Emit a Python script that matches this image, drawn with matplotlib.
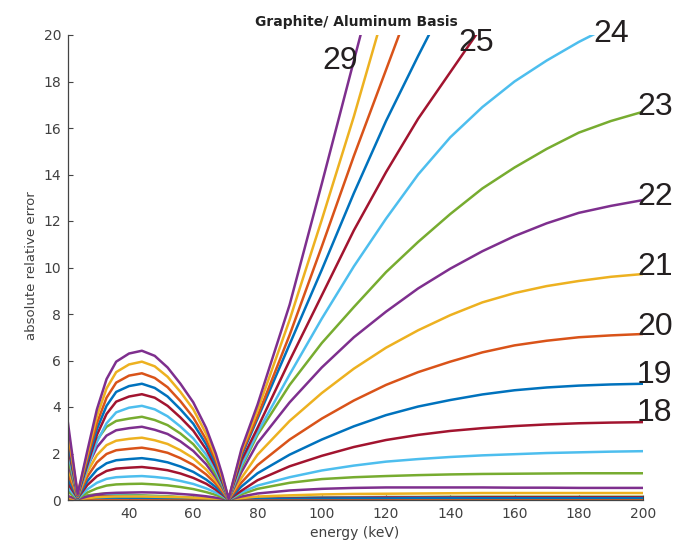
import numpy as np
import matplotlib
matplotlib.use("Agg")
import matplotlib.pyplot as plt

low_energy = [21, 24, 27, 30, 33, 36, 40, 44, 48, 52, 56, 60, 64, 67, 69, 71]
high_energy = [75, 80, 90, 100, 110, 120, 130, 140, 150, 160, 170, 180, 190, 200]
energy = low_energy + high_energy
nan = np.nan

# absolute relative error per atomic number (low part + high part)
err_z5 = [0.45, 0.05, 0.12, 0.15, 0.15, 0.14, 0.13, 0.12, 0.11, 0.1, 0.08, 0.07, 0.05, 0.03, 0.02, 0.0,
          0.02, 0.04, 0.06, 0.08, 0.09, 0.1, 0.1, 0.1, 0.1, 0.1, 0.1, 0.1, 0.1, 0.1]
err_z6 = [0.0] * 30
err_z7 = [0.6, 0.06, 0.1, 0.12, 0.12, 0.11, 0.1, 0.1, 0.09, 0.08, 0.07, 0.06, 0.04, 0.03, 0.02, 0.0,
          0.01, 0.02, 0.03, 0.04, 0.05, 0.05, 0.05, 0.05, 0.05, 0.05, 0.05, 0.05, 0.05, 0.05]
err_z8 = [0.9, 0.1, 0.15, 0.2, 0.22, 0.2, 0.18, 0.17, 0.15, 0.13, 0.11, 0.09, 0.07, 0.05, 0.03, 0.0,
          0.02, 0.04, 0.06, 0.07, 0.08, 0.08, 0.09, 0.09, 0.09, 0.09, 0.09, 0.09, 0.09, 0.09]
err_z9 = [1.1, 0.1, 0.2, 0.25, 0.28, 0.25, 0.22, 0.2, 0.18, 0.16, 0.13, 0.1, 0.08, 0.05, 0.03, 0.0,
          0.03, 0.06, 0.09, 0.11, 0.12, 0.13, 0.13, 0.14, 0.14, 0.14, 0.14, 0.14, 0.14, 0.14]
err_z10 = [1.0, 0.08, 0.15, 0.2, 0.2, 0.19, 0.18, 0.17, 0.15, 0.13, 0.11, 0.09, 0.07, 0.05, 0.03, 0.0,
           0.02, 0.05, 0.08, 0.1, 0.11, 0.12, 0.12, 0.12, 0.12, 0.12, 0.12, 0.12, 0.12, 0.12]
err_z11 = [0.8, 0.06, 0.12, 0.15, 0.15, 0.14, 0.13, 0.12, 0.11, 0.1, 0.09, 0.07, 0.05, 0.04, 0.02, 0.0,
           0.02, 0.04, 0.07, 0.09, 0.1, 0.11, 0.11, 0.11, 0.12, 0.12, 0.12, 0.12, 0.12, 0.12]
err_z12 = [0.5, 0.04, 0.08, 0.1, 0.1, 0.1, 0.09, 0.09, 0.08, 0.07, 0.06, 0.05, 0.04, 0.03, 0.02, 0.0,
           0.02, 0.03, 0.05, 0.06, 0.07, 0.07, 0.08, 0.08, 0.08, 0.08, 0.08, 0.08, 0.08, 0.08]
err_z13 = [0.0] * 30
err_z14 = [0.1, 0.02, 0.08, 0.12, 0.14, 0.15, 0.15, 0.15, 0.14, 0.13, 0.12, 0.1, 0.07, 0.05, 0.03, 0.0,
           0.08, 0.15, 0.2, 0.24, 0.26, 0.27, 0.28, 0.29, 0.3, 0.3, 0.3, 0.3, 0.3, 0.3]
err_z15 = [0.17, 0.03, 0.15, 0.24, 0.29, 0.31, 0.32, 0.33, 0.32, 0.3, 0.26, 0.22, 0.16, 0.1, 0.06, 0.01,
           0.15, 0.28, 0.41, 0.48, 0.52, 0.54, 0.54, 0.54, 0.54, 0.53, 0.53, 0.52, 0.52, 0.52]
err_z16 = [0.35, 0.05, 0.32, 0.5, 0.62, 0.67, 0.69, 0.7, 0.67, 0.63, 0.56, 0.47, 0.34, 0.22, 0.12, 0.01,
           0.25, 0.48, 0.74, 0.9, 0.98, 1.03, 1.07, 1.1, 1.12, 1.13, 1.14, 1.15, 1.15, 1.15]
err_z17 = [0.52, 0.06, 0.46, 0.74, 0.91, 0.98, 1.01, 1.03, 0.99, 0.93, 0.82, 0.69, 0.5, 0.32, 0.18, 0.01,
           0.32, 0.62, 0.98, 1.27, 1.48, 1.65, 1.76, 1.85, 1.92, 1.97, 2.02, 2.05, 2.08, 2.1]
err_z18 = [0.71, 0.08, 0.64, 1.02, 1.25, 1.35, 1.39, 1.42, 1.36, 1.28, 1.14, 0.95, 0.7, 0.44, 0.24, 0.02,
           0.4, 0.85, 1.45, 1.9, 2.28, 2.58, 2.8, 2.97, 3.09, 3.18, 3.25, 3.3, 3.33, 3.35]
err_z19 = [0.9, 0.1, 0.81, 1.3, 1.58, 1.71, 1.76, 1.8, 1.73, 1.62, 1.44, 1.21, 0.88, 0.56, 0.31, 0.02,
           0.58, 1.15, 1.95, 2.6, 3.17, 3.65, 4.02, 4.3, 4.54, 4.72, 4.84, 4.92, 4.97, 5.0]
err_z20 = [1.12, 0.12, 1.0, 1.62, 1.98, 2.14, 2.2, 2.25, 2.16, 2.03, 1.8, 1.51, 1.1, 0.7, 0.38, 0.02,
           0.75, 1.5, 2.6, 3.5, 4.28, 4.95, 5.5, 5.95, 6.35, 6.65, 6.85, 7.0, 7.08, 7.14]
err_z21 = [1.35, 0.14, 1.2, 1.93, 2.36, 2.55, 2.63, 2.68, 2.57, 2.41, 2.14, 1.8, 1.31, 0.83, 0.46, 0.03,
           0.95, 1.95, 3.4, 4.6, 5.65, 6.55, 7.3, 7.95, 8.5, 8.9, 9.2, 9.42, 9.6, 9.72]
err_z22 = [1.6, 0.16, 1.42, 2.27, 2.77, 3.0, 3.09, 3.15, 3.02, 2.84, 2.52, 2.11, 1.54, 0.98, 0.54, 0.03,
           1.2, 2.45, 4.2, 5.7, 7.0, 8.1, 9.1, 9.95, 10.7, 11.35, 11.9, 12.35, 12.65, 12.9]
err_z23 = [1.8, 0.18, 1.6, 2.58, 3.15, 3.4, 3.5, 3.58, 3.44, 3.22, 2.86, 2.4, 1.75, 1.1, 0.61, 0.04,
           1.4, 2.8, 4.95, 6.75, 8.3, 9.8, 11.1, 12.3, 13.4, 14.3, 15.1, 15.8, 16.3, 16.7]
err_z24 = [2.05, 0.18, 1.35, 2.5, 3.3, 3.77, 3.97, 4.05, 3.9, 3.6, 3.16, 2.65, 1.95, 1.25, 0.69, 0.04,
           1.5, 2.9, 5.4, 7.8, 10.05, 12.1, 14.0, 15.6, 16.9, 18.0, 18.9, 19.7, 20.4, nan]
err_z25 = [2.3, 0.2, 1.5, 2.8, 3.7, 4.23, 4.45, 4.55, 4.4, 4.05, 3.55, 2.98, 2.18, 1.4, 0.77, 0.05,
           1.7, 3.1, 6.0, 8.8, 11.6, 14.1, 16.4, 18.4, 20.4, nan, nan, nan, nan, nan]
err_z26 = [2.55, 0.2, 1.65, 3.05, 4.05, 4.65, 4.9, 5.0, 4.82, 4.45, 3.9, 3.28, 2.4, 1.55, 0.85, 0.05,
           1.9, 3.5, 6.7, 9.9, 13.2, 16.3, 19.1, 21.8, nan, nan, nan, nan, nan, nan]
err_z27 = [2.8, 0.22, 1.8, 3.3, 4.4, 5.05, 5.35, 5.45, 5.25, 4.85, 4.25, 3.55, 2.6, 1.7, 0.93, 0.05,
           2.0, 3.6, 7.1, 10.9, 14.8, 18.5, 22.2, nan, nan, nan, nan, nan, nan, nan]
err_z28 = [3.0, 0.25, 1.95, 3.6, 4.8, 5.5, 5.83, 5.95, 5.75, 5.3, 4.65, 3.9, 2.85, 1.85, 1.0, 0.05,
           2.1, 3.85, 7.75, 12.05, 16.5, 21.3, nan, nan, nan, nan, nan, nan, nan, nan]
err_z29 = [3.3, 0.25, 2.1, 3.9, 5.2, 5.95, 6.3, 6.42, 6.2, 5.7, 5.0, 4.2, 3.1, 2.0, 1.1, 0.05,
           2.2, 4.1, 8.4, 13.6, 18.9, 24.2, nan, nan, nan, nan, nan, nan, nan, nan]

atomic_numbers = list(range(5, 30))
curves = [err_z5, err_z6, err_z7, err_z8, err_z9, err_z10, err_z11, err_z12, err_z13,
          err_z14, err_z15, err_z16, err_z17, err_z18, err_z19, err_z20, err_z21,
          err_z22, err_z23, err_z24, err_z25, err_z26, err_z27, err_z28, err_z29]

# curve labels: (text, energy, error) where the number sits
label_text = ["29", "25", "24", "23", "22", "21", "20", "19", "18"]
label_x = [100.1, 142.4, 184.4, 198.1, 198.1, 198.1, 198.1, 198.1, 198.1]
label_y = [18.9, 19.66, 20.04, 16.9, 13.03, 10.02, 7.44, 5.38, 3.74]

# MATLAB default colour order
matlab_colors = ["#0072BD", "#D95319", "#EDB120", "#7E2F8E", "#77AC30", "#4DBEEE", "#A2142F"]

fig = plt.figure(figsize=(6.81, 5.45), dpi=100)
ax = fig.add_axes([68 / 681, 45 / 545, 575 / 681, 465 / 545])

for i, (z, vals) in enumerate(zip(atomic_numbers, curves)):
    ax.plot(energy, vals, color=matlab_colors[i % 7], lw=1.8, solid_joinstyle="round")

ax.set_xlim(21, 200)
ax.set_ylim(0, 20)
ax.set_xticks(range(40, 201, 20))
ax.set_yticks(range(0, 21, 2))
ax.spines["top"].set_visible(False)
ax.spines["right"].set_visible(False)
for s in ["left", "bottom"]:
    ax.spines[s].set_color("#444444")
    ax.spines[s].set_linewidth(0.9)
ax.tick_params(direction="in", length=3.5, width=0.8, colors="#444444",
               labelsize=10, labelcolor="#404040", pad=5)

fig.text(356 / 681, 1 - 22 / 545, "Graphite/ Aluminum Basis", ha="center", va="center",
         fontsize=10, fontweight="bold", color="#222222")
fig.text(32 / 681, 1 - 266 / 545, "absolute relative error", rotation=90, ha="center",
         va="center", fontsize=9.5, color="#404040")
fig.text(355 / 681, 1 - 533 / 545, "energy (keV)", ha="center", va="center",
         fontsize=10, color="#404040")

for t, x, y in zip(label_text, label_x, label_y):
    ax.text(x, y, t, ha="left", va="center", fontsize=23, color="#231f20",
            family="Liberation Sans", clip_on=False)

fig.savefig("out.png", dpi=100)
